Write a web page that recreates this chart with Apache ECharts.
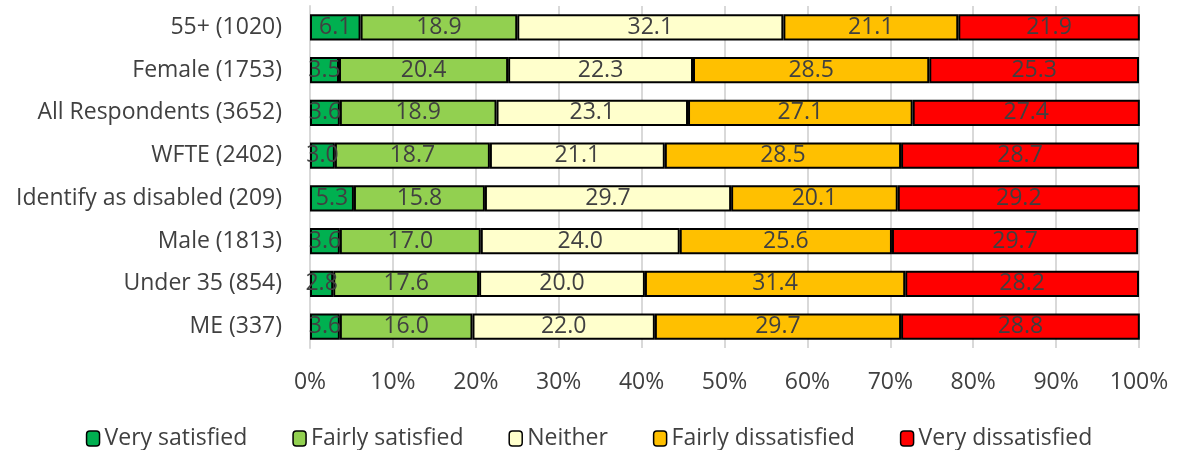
<!DOCTYPE html>
<html>
<head>
<meta charset="utf-8">
<script src="https://cdn.jsdelivr.net/npm/echarts@6/dist/echarts.min.js"></script>
<style>html,body{margin:0;padding:0;background:#fff}#c{width:1178px;height:450px}</style>
</head>
<body>
<div id="c"></div>
<script>
var categories = ['55+ (1020)','Female (1753)','All Respondents (3652)','WFTE (2402)','Identify as disabled (209)','Male (1813)','Under 35 (854)','ME (337)'];
var seriesNames = ['Very satisfied','Fairly satisfied','Neither','Fairly dissatisfied','Very dissatisfied'];
var verySatisfied = [6.1,3.5,3.6,3.0,5.3,3.6,2.8,3.6];
var fairlySatisfied = [18.9,20.4,18.9,18.7,15.8,17.0,17.6,16.0];
var neither = [32.1,22.3,23.1,21.1,29.7,24.0,20.0,22.0];
var fairlyDissatisfied = [21.1,28.5,27.1,28.5,20.1,25.6,31.4,29.7];
var veryDissatisfied = [21.9,25.3,27.4,28.7,29.2,29.7,28.2,28.8];
var colors = ['#00B050','#92D050','#FFFFCC','#FFC000','#FF0000'];
var allData = [verySatisfied,fairlySatisfied,neither,fairlyDissatisfied,veryDissatisfied];
var FONT = '"Open Sans", sans-serif';
var FS = 23;
var chart = echarts.init(document.getElementById('c'));
chart.setOption({
  animation:false,
  textStyle:{fontFamily:FONT},
  grid:{left:310,right:39,top:6,bottom:102,containLabel:false},
  legend:{
    bottom:-5,left:'center',itemWidth:13,itemHeight:15,itemGap:45,
    textStyle:{fontSize:FS,color:'#404040',fontFamily:FONT},
    data:seriesNames.map(function(n,i){return {name:n,itemStyle:{color:colors[i],borderColor:'#000',borderWidth:1.5}};})
  },
  xAxis:{type:'value',min:0,max:100,interval:10,
    axisLabel:{formatter:'{value}%',fontSize:FS,color:'#404040',margin:23,fontFamily:FONT},
    splitLine:{lineStyle:{color:'#D9D9D9',width:2}},
    axisLine:{show:false},axisTick:{show:false}},
  yAxis:{type:'category',inverse:true,data:categories,
    axisLabel:{fontSize:FS,color:'#404040',margin:28,fontFamily:FONT},
    axisLine:{show:true,lineStyle:{color:'#D9D9D9',width:2}},axisTick:{show:false}},
  series:allData.map(function(d,i){return {
    name:seriesNames[i],type:'bar',stack:'total',data:d,barCategoryGap:'39%',
    itemStyle:{color:colors[i],borderColor:'#000',borderWidth:2},
    label:{show:true,position:'inside',color:'#404040',fontSize:FS,fontFamily:FONT,
      formatter:function(p){return p.value.toFixed(1);}}
  };})
});
</script>
</body>
</html>
